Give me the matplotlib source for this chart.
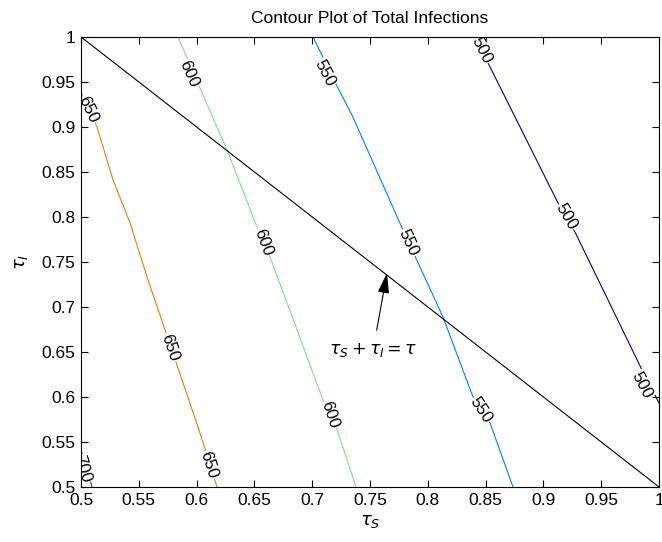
import numpy as np
import matplotlib
matplotlib.use('Agg')
import matplotlib.pyplot as plt

plt.rcParams['font.family'] = ['Liberation Sans', 'DejaVu Sans']
plt.rcParams['mathtext.fontset'] = 'dejavusans'

# contour lines (tau_S, tau_I) for each level
levels = [500, 550, 600, 650, 700]
colors = ['#00008F', '#0080FF', '#80E080', '#F07A10', '#B00000']

x500 = [0.8408, 0.8538, 0.9126, 0.9273, 0.9853, 1.0]
y500 = [1.0, 0.9667, 0.8156, 0.7833, 0.6300, 0.5933]
x550 = [0.7007, 0.7223, 0.7344, 0.7785, 0.8131, 0.8391, 0.8538, 0.8737]
y550 = [1.0, 0.9433, 0.9133, 0.7856, 0.6889, 0.6000, 0.5711, 0.5]
x600 = [0.5839, 0.6029, 0.6263, 0.6522, 0.6635, 0.7093, 0.7215, 0.7379]
y600 = [1.0, 0.9433, 0.8744, 0.7889, 0.7556, 0.5967, 0.5633, 0.5]
x650 = [0.5, 0.5138, 0.5277, 0.5424, 0.5571, 0.5874, 0.6029, 0.6176]
y650 = [0.9378, 0.9, 0.8411, 0.7933, 0.7333, 0.6189, 0.56, 0.5]
x700 = [0.5, 0.5095]
y700 = [0.5411, 0.5]

lines_x = [x500, x550, x600, x650, x700]
lines_y = [y500, y550, y600, y650, y700]

# where the inline labels sit
label_pos = {
    500: [(0.8469, 0.9856), (0.9196, 0.8000), (0.9853, 0.6133)],
    550: [(0.7111, 0.9600), (0.7829, 0.7711), (0.8460, 0.5856)],
    600: [(0.5934, 0.9589), (0.6574, 0.7722), (0.7154, 0.5800)],
    650: [(0.5061, 0.9189), (0.5770, 0.6550), (0.6107, 0.5244)],
    700: [(0.5010, 0.5200)],
}

ticks = [0.5, 0.55, 0.6, 0.65, 0.7, 0.75, 0.8, 0.85, 0.9, 0.95, 1]
tick_labels = ['0.5', '0.55', '0.6', '0.65', '0.7', '0.75', '0.8', '0.85', '0.9', '0.95', '1']

fig = plt.figure(figsize=(6.62, 5.42), dpi=100)
ax = fig.add_axes([0.1224, 0.1015, 0.8731, 0.8303])
ax.set_xlim(0.5, 1)
ax.set_ylim(0.5, 1)

for lev, c, xs, ys in zip(levels, colors, lines_x, lines_y):
    ax.plot(xs, ys, color=c, lw=0.8, zorder=2)

# constraint line tau_S + tau_I = tau
ax.plot([0.5, 1], [1, 0.5], color='k', lw=0.8, zorder=2)

fig.canvas.draw()
for lev, xs, ys in zip(levels, lines_x, lines_y):
    pts = ax.transData.transform(np.column_stack([xs, ys]))
    for (lx, ly) in label_pos[lev]:
        # pick local segment of the line around the label
        i = int(np.argmin([abs(y - ly) for y in ys]))
        j = i + 1 if i + 1 < len(xs) else i - 1
        a, b = sorted([i, j])
        dx = pts[b, 0] - pts[a, 0]
        dy = pts[b, 1] - pts[a, 1]
        ang = np.degrees(np.arctan2(dy, dx))
        if ang > 90:
            ang -= 180
        if ang < -90:
            ang += 180
        ax.text(lx, ly, str(lev), rotation=ang, rotation_mode='anchor',
                ha='center', va='center', fontsize=12, zorder=3, clip_on=True,
                bbox=dict(facecolor='white', edgecolor='none', pad=0.5))

ax.annotate(r'$\tau_S + \tau_I = \tau$', xy=(0.7647, 0.7378), xytext=(0.7526, 0.652),
            ha='center', va='center', fontsize=12.5,
            arrowprops=dict(arrowstyle='-|>,head_length=1.0,head_width=0.28',
                            color='k', lw=0.8, shrinkA=6, shrinkB=0))

ax.set_xticks(ticks)
ax.set_xticklabels(tick_labels)
ax.set_yticks(ticks)
ax.set_yticklabels(tick_labels)
ax.tick_params(direction='in', length=5, top=True, right=True, labelsize=12.5, pad=4)
for s in ax.spines.values():
    s.set_linewidth(0.8)
    s.set_zorder(4)

ax.set_title('Contour Plot of Total Infections', fontsize=12.5, pad=10)
ax.set_xlabel(r'$\tau_S$', fontsize=13)
ax.set_ylabel(r'$\tau_I$', fontsize=13, labelpad=8)

fig.savefig('out.png', dpi=100, facecolor='white')
